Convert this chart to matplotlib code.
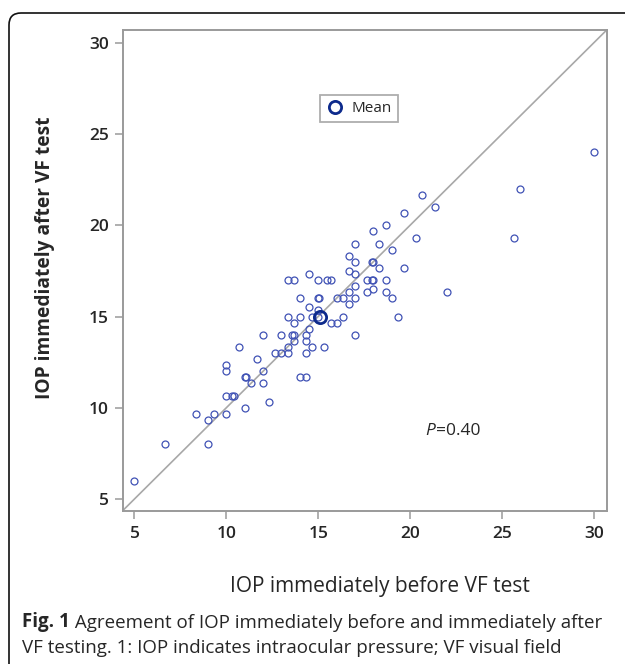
import matplotlib
matplotlib.use("Agg")
import matplotlib.pyplot as plt
from matplotlib.patches import PathPatch
from matplotlib.path import Path
from matplotlib.lines import Line2D

# IOP (mmHg) immediately before / after the VF test, one point per eye
iop_before = [5, 6.67, 9, 8.33, 9, 9.33, 10, 11, 10, 10.33, 10.4, 12.33,
              11.33, 12, 11, 11.07, 14, 14.33, 10, 10, 12, 11.67, 10.67,
              12.67, 13, 13.33, 14.33, 13.33, 14.67, 15.33, 12, 13, 13.67,
              13.6, 13.67, 14.33, 14.33, 14.5, 13.67, 13.33, 14, 14.67, 15,
              15, 15.67, 16, 16.33, 17, 14.5, 14, 15, 15.03, 16, 16.33, 17,
              16.67, 16.67, 17, 17.67, 18, 18.67, 19, 19.33, 13.33, 13.67,
              14.5, 15, 15.5, 15.67, 17, 16.67, 17.67, 18, 17.95, 18.67,
              16.67, 17, 18, 17.95, 18.33, 19.67, 19, 18.33, 17, 18, 18.67,
              20.33, 19.67, 20.67, 21.33, 22, 25.67, 26, 30]
iop_after = [6, 8, 8, 9.67, 9.33, 9.67, 9.67, 10, 10.67, 10.67, 10.67, 10.33,
             11.33, 11.33, 11.67, 11.67, 11.67, 11.67, 12.33, 12, 12, 12.67,
             13.33, 13, 13, 13, 13, 13.33, 13.33, 13.33, 14, 14, 14, 14,
             13.67, 14, 13.67, 14.33, 14.67, 15, 15, 15, 15.33, 15, 14.67,
             14.67, 15, 14, 15.5, 16, 16, 16.03, 16, 16, 16, 15.67, 16.33,
             16.67, 16.33, 16.5, 16.33, 16, 15, 17, 17, 17.33, 17, 17, 17,
             17.33, 17.5, 17, 17, 17, 17, 18.33, 18, 18, 18, 17.67, 17.67,
             18.67, 19, 19, 19.67, 20, 19.33, 20.67, 21.67, 21, 16.33, 19.33,
             22, 24]
mean_before = 15.1
mean_after = 15.0
p_text = "=0.40"
ticks = [5, 10, 15, 20, 25, 30]

dot_col = "#4052b5"
mean_col = "#0d2a8c"
frame_col = "#9a9a9a"
text_col = "#262626"

W, H = 625, 664
fig = plt.figure(figsize=(W / 100, H / 100), dpi=100)
ax = fig.add_axes([0.1963, 0.2309, 0.7744, 0.7239])

lo, hi = 4.36, 30.7
ax.plot([lo, hi], [lo, hi], color="#a8a8a8", lw=1.2, zorder=1)
ax.plot(iop_before, iop_after, "o", ls="none", ms=5.0, mfc="none",
        mec=dot_col, mew=0.9, zorder=2)
ax.plot([mean_before], [mean_after], "o", ms=8.8, mfc="none", mec=mean_col,
        mew=2.0, zorder=3)

ax.set_xlim(lo, hi)
ax.set_ylim(lo, hi)
ax.set_xticks(ticks)
ax.set_yticks(ticks)
for s in ax.spines.values():
    s.set_color(frame_col)
    s.set_linewidth(1.4)
ax.tick_params(direction="out", length=6, width=1.1, color=frame_col,
               labelsize=12.5, labelcolor=text_col, pad=4)
for lab in ax.get_xticklabels() + ax.get_yticklabels():
    lab.set_fontfamily("Open Sans")
    lab.set_fontweight("semibold")
ax.tick_params(axis="x", pad=5)

# legend
h = Line2D([], [], marker="o", ls="none", ms=8.8, mfc="none", mec=mean_col,
           mew=2.0)
leg = ax.legend([h], ["Mean"], loc="center",
                bbox_to_anchor=(359 / W, 1 - 108.5 / H),
                bbox_transform=fig.transFigure, fancybox=False,
                prop={"family": "Open Sans", "size": 11},
                borderpad=0.4, handletextpad=0.5, handlelength=1.2,
                borderaxespad=0)
leg.get_frame().set_edgecolor(frame_col)
leg.get_frame().set_linewidth(1.3)
for t in leg.get_texts():
    t.set_color(text_col)

# P value
tp = ax.text(20.85, 8.75, "P", style="italic", fontsize=12.5,
             family="Open Sans", color=text_col, va="center")
ax.annotate(p_text, xy=(1, 0), xycoords=tp, va="bottom", ha="left",
            fontsize=12.5, family="Open Sans", color=text_col)

# axis titles
fig.text(380 / W, 1 - 592 / H, "IOP immediately before VF test",
         ha="center", va="baseline", fontsize=15, family="Open Sans",
         color=text_col)
fig.text(45 / W, 1 - 258 / H, "IOP immediately after VF test",
         ha="center", va="center", rotation=90, fontsize=13.8,
         family="Open Sans", fontweight="bold", color=text_col)

# caption
cap_size = 13.5
cap = fig.text(22 / W, 1 - 627 / H, "Fig. 1", ha="left", va="baseline",
               fontsize=cap_size, family="Open Sans", fontweight="bold",
               color=text_col)
ax.annotate(" Agreement of IOP immediately before and immediately after",
            xy=(1, 0), xycoords=cap, va="bottom", ha="left",
            fontsize=cap_size, family="Open Sans", color=text_col,
            annotation_clip=False)
fig.text(22 / W, 1 - 653 / H,
         "VF testing. 1: IOP indicates intraocular pressure; VF visual field",
         ha="left", va="baseline", fontsize=cap_size, family="Open Sans",
         color=text_col)

# outer frame: left and top edge with a rounded corner
bx, by, r = 9, 13, 12
verts = [(bx / W, -0.05), (bx / W, 1 - (by + r) / H), (bx / W, 1 - by / H),
         ((bx + r) / W, 1 - by / H), (1.05, 1 - by / H)]
codes = [Path.MOVETO, Path.LINETO, Path.CURVE3, Path.CURVE3, Path.LINETO]
frame = PathPatch(Path(verts, codes), transform=fig.transFigure, fill=False,
                  edgecolor="#111111", linewidth=1.2)
fig.patches.append(frame)

fig.savefig("out.png", dpi=100)
